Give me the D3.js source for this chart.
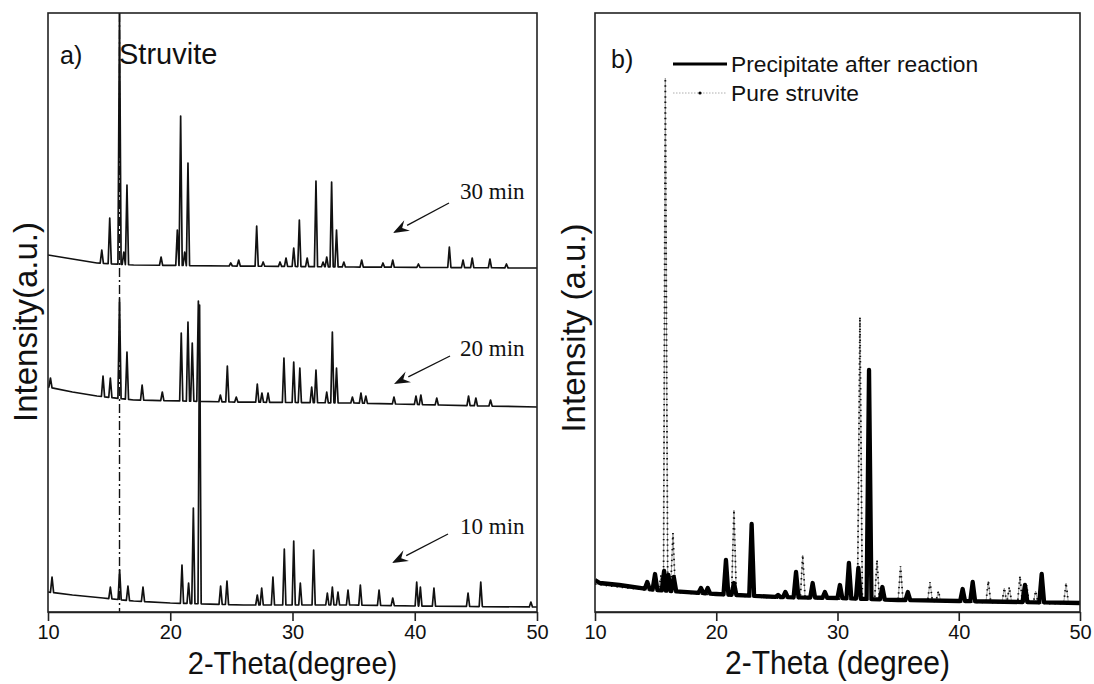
<!DOCTYPE html>
<html><head><meta charset="utf-8">
<script src="https://cdn.jsdelivr.net/npm/d3@7"></script>
<style>body{margin:0;background:#fff} svg{display:block}</style>
</head><body>
<svg id="c" width="1094" height="684"></svg>
<script>
// ---------- DATA ----------
const xTicks = [10, 20, 30, 40, 50];
const struviteLine = 15.85;

// Panel a : baselines [2θ, intensity] and peaks [2θ, intensity]
const base30 = [[10,357],[12,353],[14,349],[17,347],[25,346],[35,345],[50,344]];
const peaks30 = [[14.4,362],[15.05,394],[15.85,600],[16.2,360],[16.46,427],[19.25,355],[20.58,382],[20.85,496],
  [21.18,360],[21.45,449],[24.95,349],[25.6,352],[27.07,386],[27.6,350],[28.98,350],[29.47,354],[30.1,364],
  [30.56,392],[31.2,354],[31.92,431],[32.5,350],[32.8,355],[33.2,430],[33.6,382],[34.2,350],[35.66,352],
  [37.4,349],[38.2,352],[40.3,348],[42.83,365],[43.95,352],[44.7,354],[46.15,353],[47.5,348]];

const base20 = [[10,225],[12,220],[14,216],[17,212],[25,210],[35,209],[42,207],[50,205]];
const peaks20 = [[10.2,234],[14.5,236],[15.1,234],[15.85,313],[16.46,260],[17.7,227],[19.35,220],[20.9,279],
  [21.45,290],[21.8,269],[22.3,311],[24.1,217],[24.67,246],[25.4,215],[27.12,228],[27.5,219],[28.0,219],
  [29.3,254],[30.1,250],[30.6,244],[31.57,225],[31.92,242],[32.8,220],[33.26,280],[33.6,244],[34.9,215],
  [35.6,219],[36.0,216],[38.3,215],[40.1,216],[40.5,217],[41.8,214],[44.4,216],[45.0,214],[46.2,212]];

const base10 = [[10,20],[12,17],[14.5,14],[17,11],[20,9],[26,7],[35,7],[40,6],[50,5]];
const peaks10 = [[10.33,35],[15.1,25],[15.86,42],[16.54,26],[17.77,25],[20.96,47],[21.5,29],[21.89,104],
  [22.4,307],[24.12,26],[24.64,31],[27.12,17],[27.48,24],[28.4,35],[29.33,63],[30.1,71],[30.64,29],
  [31.73,62],[32.85,19],[33.26,25],[33.72,20],[34.54,22],[35.55,27],[37.08,22],[38.2,14],[40.16,30],
  [40.46,25],[41.57,24],[44.36,19],[45.4,30],[49.5,10]];

// Panel b
const basePrec = [[10,32],[10.4,29],[12,27],[15,22],[20,18],[25,15],[30,14],[35,12],[40,11],[50,9]];
const peaksPrec = [[14.31,30],[14.95,38],[15.7,41],[16.05,37],[16.5,35],[18.74,24],[19.3,24],[20.8,52],
  [21.46,29],[22.92,88],[25.1,17],[25.7,20],[26.58,40],[27.95,29],[28.96,20],[30.2,27],[30.94,49],
  [31.72,44],[32.6,242],[33.7,25],[35.8,20],[40.32,23],[41.15,30],[45.46,27],[46.84,38]];

const basePure = [[10,28],[12,25],[15,21],[20,17],[25,14],[30,13],[40,10],[50,8]];
const peaksPure = [[14.9,27],[15.45,37],[15.8,534],[16.43,79],[20.8,27],[21.46,102],[26.6,27],[27.13,57],
  [28.0,27],[31.85,295],[33.26,52],[35.2,46],[35.8,20],[37.63,30],[38.32,21],[42.44,31],[43.76,24],
  [44.17,25],[45.05,36],[45.6,27],[46.34,21],[48.85,29]];

// ---------- HELPERS ----------
function baseAt(knots, t) {
  for (let i = 0; i < knots.length - 1; i++) {
    const [x0,y0] = knots[i], [x1,y1] = knots[i+1];
    if (t >= x0 && t <= x1) return y0 + (y1 - y0) * (t - x0) / (x1 - x0);
  }
  return knots[knots.length-1][1];
}
function spectrum(knots, peaks, hw) {
  const pts = knots.filter(k => !peaks.some(p => Math.abs(p[0]-k[0]) < hw)).map(k => [k[0], k[1]]);
  peaks.forEach(([t,h]) => {
    pts.push([t-hw, baseAt(knots, t-hw)], [t, h], [t+hw, baseAt(knots, t+hw)]);
  });
  pts.sort((a,b) => a[0]-b[0]);
  return pts;
}

const FONT = '"Liberation Sans", Arial, sans-serif';
const svg = d3.select('#c');
const defs = svg.append('defs');

function panel(cfg) {
  const x = d3.scaleLinear().domain([10,50]).range([cfg.left, cfg.right]);
  const y = d3.scaleLinear().domain([0,599]).range([cfg.bottom, cfg.top]);
  defs.append('clipPath').attr('id', cfg.id).append('rect')
    .attr('x', cfg.left).attr('y', cfg.top).attr('width', cfg.right-cfg.left).attr('height', cfg.bottom-cfg.top);
  const g = svg.append('g');
  const plot = g.append('g').attr('clip-path', `url(#${cfg.id})`);
  g.append('rect').attr('x', cfg.left).attr('y', cfg.top).attr('width', cfg.right-cfg.left)
    .attr('height', cfg.bottom-cfg.top).attr('fill','none').attr('stroke','#222').attr('stroke-width',1.6);
  const ax = g.append('g').attr('transform', `translate(0,${cfg.bottom})`)
    .call(d3.axisBottom(x).tickValues(xTicks).tickSize(9).tickSizeOuter(0).tickPadding(4).tickFormat(d3.format('d')));
  ax.select('.domain').attr('stroke','#222').attr('stroke-width',1.6);
  ax.selectAll('.tick line').attr('stroke','#222').attr('stroke-width',1.6);
  ax.selectAll('.tick text').attr('font-family',FONT).attr('font-size',20).attr('fill','#111');
  g.append('text').attr('transform', `translate(${(cfg.left+cfg.right)/2},674) scale(1,1.1)`).attr('text-anchor','middle')
    .attr('font-family',FONT).attr('font-size', cfg.xfs).attr('fill','#111').text(cfg.xTitle);
  g.append('text').attr('transform', `translate(${cfg.ytx},${cfg.yty}) rotate(-90)`).attr('text-anchor','middle')
    .attr('font-family',FONT).attr('font-size', cfg.yfs).attr('fill','#111').text(cfg.yTitle);
  return {x, y, g, plot};
}

// ---------- PANEL A ----------
const A = panel({id:'ca', left:48, right:537, top:13, bottom:612, xTitle:'2-Theta(degree)', yTitle:'Intensity(a.u.)',
  xfs:29, yfs:33, ytx:37, yty:322});
const lineA = d3.line().x(d => A.x(d[0])).y(d => A.y(d[1]));
[[base30,peaks30],[base20,peaks20],[base10,peaks10]].forEach(([b,p]) => {
  A.plot.append('path').attr('d', lineA(spectrum(b,p,0.13))).attr('fill','none')
    .attr('stroke','#111').attr('stroke-width',1.7).attr('stroke-linejoin','round');
});
A.plot.append('line').attr('x1', A.x(struviteLine)).attr('x2', A.x(struviteLine)).attr('y1', 13).attr('y2', 612)
  .attr('stroke','#111').attr('stroke-width',1.4).attr('stroke-dasharray','9,3,2,3');
A.g.append('text').attr('x', 60).attr('y', 64).attr('font-family',FONT)
  .attr('font-size',25).attr('fill','#111').text('a)');
A.g.append('text').attr('x', 119).attr('y', 64).attr('font-family',FONT)
  .attr('font-size',29).attr('fill','#111').text('Struvite');

const labels = [
  {t:'30 min', tx:460, ty:199, x1:449, y1:203, x2:393, y2:233},
  {t:'20 min', tx:460, ty:356, x1:450, y1:356, x2:394, y2:384},
  {t:'10 min', tx:460, ty:534, x1:448, y1:534, x2:392, y2:563}
];
labels.forEach(l => {
  A.g.append('text').attr('x', l.tx).attr('y', l.ty).attr('font-family','"Liberation Serif", "Times New Roman", serif')
    .attr('font-size',23).attr('fill','#111').text(l.t);
  const ang = Math.atan2(l.y2-l.y1, l.x2-l.x1), L = 16, W = 6;
  const bx = l.x2 - L*Math.cos(ang), by = l.y2 - L*Math.sin(ang);
  A.g.append('line').attr('x1', l.x1).attr('y1', l.y1).attr('x2', bx).attr('y2', by).attr('stroke','#111').attr('stroke-width',1.3);
  A.g.append('path').attr('d', `M${l.x2},${l.y2}L${bx + W*Math.sin(ang)},${by - W*Math.cos(ang)}L${bx + 0.35*L*Math.cos(ang)},${by + 0.35*L*Math.sin(ang)}L${bx - W*Math.sin(ang)},${by + W*Math.cos(ang)}Z`).attr('fill','#111');
});

// ---------- PANEL B ----------
const B = panel({id:'cb', left:595, right:1080, top:13, bottom:612, xTitle:'2-Theta (degree)', yTitle:'Intensity (a.u.)',
  xfs:30, yfs:33, ytx:585, yty:328});
const lineB = d3.line().x(d => B.x(d[0])).y(d => B.y(d[1]));
const pureD = lineB(spectrum(basePure, peaksPure, 0.2));
B.plot.append('path').attr('d', pureD).attr('fill','none').attr('stroke','#999').attr('stroke-width',0.9);
B.plot.append('path').attr('d', pureD).attr('fill','none').attr('stroke','#111').attr('stroke-width',1.8)
  .attr('stroke-dasharray','1.4,4');
B.plot.append('path').attr('d', lineB(spectrum(basePrec, peaksPrec, 0.2))).attr('fill','none')
  .attr('stroke','#000').attr('stroke-width',4.3).attr('stroke-linejoin','round');

B.g.append('text').attr('x', 611).attr('y', 68).attr('font-family',FONT)
  .attr('font-size',25).attr('fill','#111').text('b)');
const legend = [{t:'Precipitate after reaction', y:64, type:'prec'},{t:'Pure struvite', y:93, type:'pure'}];
legend.forEach(l => {
  if (l.type === 'prec') {
    B.g.append('line').attr('x1',673).attr('x2',727).attr('y1',l.y).attr('y2',l.y).attr('stroke','#000').attr('stroke-width',3);
  } else {
    B.g.append('line').attr('x1',673).attr('x2',727).attr('y1',l.y).attr('y2',l.y).attr('stroke','#999').attr('stroke-width',0.8).attr('stroke-dasharray','1.5,1.5');
    B.g.append('circle').attr('cx',700).attr('cy',l.y).attr('r',1.6).attr('fill','#000');
  }
  B.g.append('text').attr('x',731).attr('y',l.y+8).attr('font-family',FONT)
    .attr('font-size',22.8).attr('fill','#111').text(l.t);
});
</script>
</body></html>
